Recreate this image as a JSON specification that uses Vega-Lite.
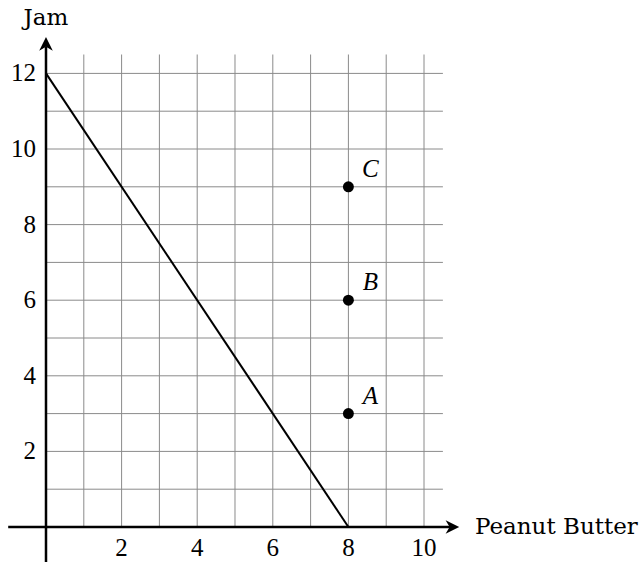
{
  "$schema": "https://vega.github.io/schema/vega-lite/v6.json",
  "width": 639,
  "height": 562,
  "autosize": "none",
  "padding": 0,
  "background": "white",
  "config": {"view": {"stroke": null}},
  "datasets": {
    "vgrid": [
      {"x": 1, "y": 0, "y2": 12.5}, {"x": 2, "y": 0, "y2": 12.5}, {"x": 3, "y": 0, "y2": 12.5},
      {"x": 4, "y": 0, "y2": 12.5}, {"x": 5, "y": 0, "y2": 12.5}, {"x": 6, "y": 0, "y2": 12.5},
      {"x": 7, "y": 0, "y2": 12.5}, {"x": 8, "y": 0, "y2": 12.5}, {"x": 9, "y": 0, "y2": 12.5},
      {"x": 10, "y": 0, "y2": 12.5}
    ],
    "hgrid": [
      {"y": 1, "x": 0, "x2": 10.5}, {"y": 2, "x": 0, "x2": 10.5}, {"y": 3, "x": 0, "x2": 10.5},
      {"y": 4, "x": 0, "x2": 10.5}, {"y": 5, "x": 0, "x2": 10.5}, {"y": 6, "x": 0, "x2": 10.5},
      {"y": 7, "x": 0, "x2": 10.5}, {"y": 8, "x": 0, "x2": 10.5}, {"y": 9, "x": 0, "x2": 10.5},
      {"y": 10, "x": 0, "x2": 10.5}, {"y": 11, "x": 0, "x2": 10.5}, {"y": 12, "x": 0, "x2": 10.5}
    ],
    "budget": [{"x": 0, "y": 12}, {"x": 8, "y": 0}],
    "bundles": [{"x": 8, "y": 3, "label": "A"}, {"x": 8, "y": 6, "label": "B"}, {"x": 8, "y": 9, "label": "C"}],
    "xticks": [{"x": 2, "label": "2"}, {"x": 4, "label": "4"}, {"x": 6, "label": "6"}, {"x": 8, "label": "8"}, {"x": 10, "label": "10"}],
    "yticks": [{"y": 2, "label": "2"}, {"y": 4, "label": "4"}, {"y": 6, "label": "6"}, {"y": 8, "label": "8"}, {"y": 10, "label": "10"}, {"y": 12, "label": "12"}]
  },
  "layer": [
    {
      "data": {"name": "vgrid"},
      "mark": {"type": "rule", "stroke": "#8a8a8a", "strokeWidth": 1},
      "encoding": {
        "x": {"field": "x", "type": "quantitative", "scale": {"domain": [-1.2169, 15.6878], "nice": false, "zero": false}, "axis": null},
        "y": {"field": "y", "type": "quantitative", "scale": {"domain": [-0.9259, 13.9418], "nice": false, "zero": false}, "axis": null},
        "y2": {"field": "y2"}
      }
    },
    {
      "data": {"name": "hgrid"},
      "mark": {"type": "rule", "stroke": "#8a8a8a", "strokeWidth": 1},
      "encoding": {
        "x": {"field": "x", "type": "quantitative"},
        "x2": {"field": "x2"},
        "y": {"field": "y", "type": "quantitative"}
      }
    },
    {
      "data": {"values": [{"x": -1, "x2": 10.8, "y": 0}]},
      "mark": {"type": "rule", "stroke": "black", "strokeWidth": 2.5},
      "encoding": {
        "x": {"field": "x", "type": "quantitative"},
        "x2": {"field": "x2"},
        "y": {"field": "y", "type": "quantitative"}
      }
    },
    {
      "data": {"values": [{"x": 0, "y": -1, "y2": 12.7}]},
      "mark": {"type": "rule", "stroke": "black", "strokeWidth": 2.5},
      "encoding": {
        "x": {"field": "x", "type": "quantitative"},
        "y": {"field": "y", "type": "quantitative"},
        "y2": {"field": "y2"}
      }
    },
    {
      "data": {"values": [{"x": 10.72, "y": 0}]},
      "mark": {"type": "point", "filled": true, "color": "black", "opacity": 1, "size": 256, "shape": "M1,0 L-0.7,0.85 L-0.2,0 L-0.7,-0.85 Z"},
      "encoding": {
        "x": {"field": "x", "type": "quantitative"},
        "y": {"field": "y", "type": "quantitative"}
      }
    },
    {
      "data": {"values": [{"x": 0, "y": 12.75}]},
      "mark": {"type": "point", "filled": true, "color": "black", "opacity": 1, "size": 256, "shape": "M0,-1 L0.85,0.7 L0,0.2 L-0.85,0.7 Z"},
      "encoding": {
        "x": {"field": "x", "type": "quantitative"},
        "y": {"field": "y", "type": "quantitative"}
      }
    },
    {
      "data": {"name": "budget"},
      "mark": {"type": "line", "stroke": "black", "strokeWidth": 2},
      "encoding": {
        "x": {"field": "x", "type": "quantitative"},
        "y": {"field": "y", "type": "quantitative"}
      }
    },
    {
      "data": {"name": "bundles"},
      "mark": {"type": "point", "filled": true, "color": "black", "opacity": 1, "size": 120, "shape": "circle"},
      "encoding": {
        "x": {"field": "x", "type": "quantitative"},
        "y": {"field": "y", "type": "quantitative"}
      }
    },
    {
      "data": {"name": "bundles"},
      "mark": {"type": "text", "font": "Liberation Serif", "fontStyle": "italic", "fontSize": 25, "dx": 22, "dy": -18, "align": "center", "baseline": "middle", "color": "black"},
      "encoding": {
        "x": {"field": "x", "type": "quantitative"},
        "y": {"field": "y", "type": "quantitative"},
        "text": {"field": "label"}
      }
    },
    {
      "data": {"name": "xticks"},
      "mark": {"type": "text", "font": "Liberation Serif", "fontSize": 25, "dy": 21, "align": "center", "baseline": "middle", "color": "black"},
      "encoding": {
        "x": {"field": "x", "type": "quantitative"},
        "y": {"datum": 0, "type": "quantitative"},
        "text": {"field": "label"}
      }
    },
    {
      "data": {"name": "yticks"},
      "mark": {"type": "text", "font": "Liberation Serif", "fontSize": 25, "dx": -10, "align": "right", "baseline": "middle", "color": "black"},
      "encoding": {
        "x": {"datum": 0, "type": "quantitative"},
        "y": {"field": "y", "type": "quantitative"},
        "text": {"field": "label"}
      }
    },
    {
      "data": {"values": [{"x": 0, "y": 13.47, "label": "Jam"}]},
      "mark": {"type": "text", "font": "DejaVu Serif", "fontSize": 23, "align": "center", "baseline": "middle", "color": "black"},
      "encoding": {
        "x": {"field": "x", "type": "quantitative"},
        "y": {"field": "y", "type": "quantitative"},
        "text": {"field": "label"}
      }
    },
    {
      "data": {"values": [{"x": 11.35, "y": 0, "label": "Peanut Butter"}]},
      "mark": {"type": "text", "font": "DejaVu Serif", "fontSize": 23, "align": "left", "baseline": "middle", "color": "black"},
      "encoding": {
        "x": {"field": "x", "type": "quantitative"},
        "y": {"field": "y", "type": "quantitative"},
        "text": {"field": "label"}
      }
    }
  ]
}
